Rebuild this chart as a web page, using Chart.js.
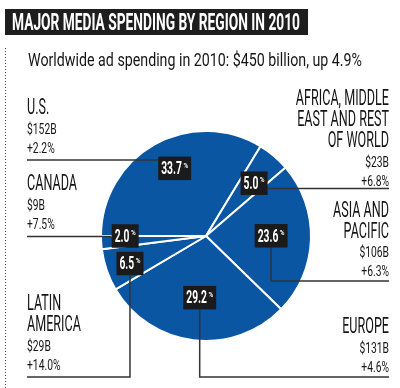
<!DOCTYPE html>
<html>
<head>
<meta charset="utf-8">
<script src="https://cdn.jsdelivr.net/npm/chart.js@4.4.1/dist/chart.umd.min.js"></script>
<style>
  html, body { margin: 0; padding: 0; background: #fff; }
  #wrap { width: 400px; height: 388px; }
</style>
</head>
<body>
<div id="wrap"><canvas id="pieChart" width="400" height="388"></canvas></div>
<script>
const regions = ['U.S.', 'Africa, Middle East and Rest of World', 'Asia and Pacific', 'Europe', 'Latin America', 'Canada'];
const headings = [['U.S.'], ['AFRICA, MIDDLE', 'EAST AND REST', 'OF WORLD'], ['ASIA AND', 'PACIFIC'], ['EUROPE'], ['LATIN', 'AMERICA'], ['CANADA']];
const shares = [33.7, 5.0, 23.6, 29.2, 6.5, 2.0];   // share of world spending, %
const spendingB = [152, 23, 106, 131, 29, 9];        // $ billions
const growth = [2.2, 6.8, 6.3, 4.6, 14.0, 7.5];      // % change

const title = 'MAJOR MEDIA SPENDING BY REGION IN 2010';
const subtitle = 'Worldwide ad spending in 2010: $450 billion, up 4.9%';

// callout layout, same order as the data
const labelSpots = [
  { frac: 0.71, turn: 4.5 },
  { frac: 0.68, turn: 2 },
  { frac: 0.62, turn: -2 },
  { frac: 0.59, turn: -1 },
  { frac: 0.77, turn: -1 },
  { frac: 0.77, turn: 3.6 }
];
const textBlocks = [
  { side: 'left', top: 114, rule: 160 },
  { side: 'right', top: 105, rule: 188.5 },
  { side: 'right', top: 216.5, rule: 281 },
  { side: 'right', top: 333, rule: 377 },
  { side: 'left', top: 310, rule: 377 },
  { side: 'left', top: 190, rule: 236.5 }
];

const FONT = 'Roboto, "Liberation Sans", sans-serif';
const LEFT_X = 27, RIGHT_X = 389;
const INK = '#151515';

function setFont(ctx, size, weight) {
  ctx.font = weight + ' ' + size + 'px ' + FONT;
}

// squeeze factor so that a sample string gets the width it has in the print font
function squeezeFor(ctx, sample, size, weight, width) {
  setFont(ctx, size, weight);
  return width / ctx.measureText(sample).width;
}

function narrowText(ctx, text, x, y, size, weight, squeeze, align) {
  setFont(ctx, size, weight);
  const w = ctx.measureText(text).width * squeeze;
  let left = x;
  if (align === 'right') left = x - w;
  if (align === 'center') left = x - w / 2;
  ctx.save();
  ctx.translate(left, y);
  ctx.scale(squeeze, 1);
  ctx.textAlign = 'left';
  ctx.textBaseline = 'alphabetic';
  ctx.fillText(text, 0, 0);
  ctx.restore();
  return w;
}

const calloutPlugin = {
  id: 'callouts',
  afterDraw(chart) {
    const ctx = chart.ctx;
    const sq = {
      title: squeezeFor(ctx, title, 24, 700, 288),
      sub: squeezeFor(ctx, subtitle, 18, 400, 334),
      head: squeezeFor(ctx, 'CANADA', 22, 400, 50),
      small: squeezeFor(ctx, '+2.2%', 14, 400, 27.7),
      box: squeezeFor(ctx, '33.7', 18, 700, 20.7)
    };

    ctx.save();
    // title bar
    ctx.fillStyle = '#1e1e1e';
    ctx.fillRect(5, 9, 303, 26);
    ctx.fillStyle = '#fff';
    narrowText(ctx, title, 12, 29.5, 24, 700, sq.title, 'left');

    ctx.fillStyle = INK;
    narrowText(ctx, subtitle, 28, 66, 18, 400, sq.sub, 'left');

    // dotted rule down the left edge
    ctx.strokeStyle = '#444';
    ctx.lineWidth = 1;
    ctx.setLineDash([1, 2]);
    ctx.beginPath();
    ctx.moveTo(5.5, 48);
    ctx.lineTo(5.5, 388);
    ctx.stroke();
    ctx.setLineDash([]);

    const arcs = chart.getDatasetMeta(0).data;
    const boxes = arcs.map((arc, i) => {
      const p = arc.getProps(['x', 'y', 'startAngle', 'endAngle', 'outerRadius'], true);
      const a = (p.startAngle + p.endAngle) / 2 + labelSpots[i].turn * Math.PI / 180;
      const r = p.outerRadius * labelSpots[i].frac;
      const cx = p.x + Math.cos(a) * r;
      const cy = p.y + Math.sin(a) * r;
      const num = shares[i].toFixed(1);
      setFont(ctx, 18, 700);
      const numW = ctx.measureText(num).width * sq.box;
      setFont(ctx, 8, 700);
      const pctW = ctx.measureText('%').width * 0.8;
      const w = 3 + numW + 1.5 + pctW + 3;
      const h = 23.5;
      return { cx, cy, x: cx - w / 2, y: cy - h / 2, w, h, num };
    });

    // leader lines
    ctx.strokeStyle = '#333';
    ctx.lineWidth = 1.5;
    boxes.forEach((b, i) => {
      const t = textBlocks[i];
      const edge = t.side === 'left' ? LEFT_X : RIGHT_X;
      ctx.beginPath();
      if (t.rule >= b.y && t.rule <= b.y + b.h) {
        ctx.moveTo(t.side === 'left' ? b.x : b.x + b.w, t.rule);
        ctx.lineTo(edge, t.rule);
      } else {
        ctx.moveTo(b.cx, b.y + b.h);
        ctx.lineTo(b.cx, t.rule);
        ctx.lineTo(edge, t.rule);
      }
      ctx.stroke();
    });

    // percentage boxes
    boxes.forEach(b => {
      ctx.fillStyle = '#1b1b1b';
      ctx.fillRect(b.x, b.y, b.w, b.h);
      ctx.fillStyle = '#fff';
      const numW = narrowText(ctx, b.num, b.x + 3, b.y + 17.5, 18, 700, sq.box, 'left');
      narrowText(ctx, '%', b.x + 3 + numW + 1.5, b.y + 11, 8, 700, 0.8, 'left');
    });

    // region text blocks
    ctx.fillStyle = INK;
    textBlocks.forEach((t, i) => {
      const x = t.side === 'left' ? LEFT_X : RIGHT_X;
      let y = t.top;
      headings[i].forEach((line, k) => {
        if (k > 0) y += 21;
        narrowText(ctx, line, x, y, 22, 400, sq.head, t.side);
      });
      y += 19.5;
      narrowText(ctx, '$' + spendingB[i] + 'B', x, y, 14, 400, sq.small, t.side);
      y += 19;
      narrowText(ctx, '+' + growth[i].toFixed(1) + '%', x, y, 14, 400, sq.small, t.side);
    });
    ctx.restore();
  }
};

new Chart(document.getElementById('pieChart').getContext('2d'), {
  type: 'pie',
  data: {
    labels: regions,
    datasets: [{
      data: shares,
      backgroundColor: '#0a56a3',
      borderColor: '#ffffff',
      borderWidth: 2
    }]
  },
  options: {
    responsive: false,
    animation: false,
    devicePixelRatio: 1,
    rotation: -90,
    layout: { padding: { left: 100, right: 88, top: 130, bottom: 46 } },
    plugins: {
      legend: { display: false },
      tooltip: { enabled: false }
    }
  },
  plugins: [calloutPlugin]
});
</script>
</body>
</html>
